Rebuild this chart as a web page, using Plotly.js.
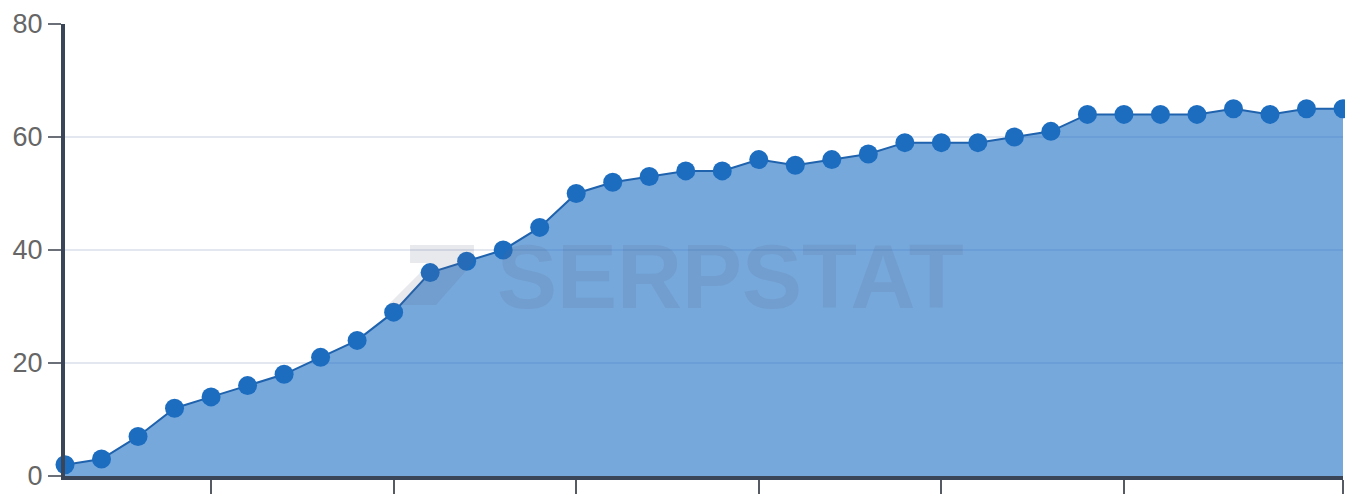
<!DOCTYPE html>
<html>
<head>
<meta charset="utf-8">
<script src="https://cdn.plot.ly/plotly-3.0.1.min.js"></script>
<style>
html,body{margin:0;padding:0;background:#fff;}
#chart{width:1345px;height:494px;}
</style>
</head>
<body>
<div id="chart"></div>
<script>
// Data
const pointIndex = [0,1,2,3,4,5,6,7,8,9,10,11,12,13,14,15,16,17,18,19,20,21,22,23,24,25,26,27,28,29,30,31,32,33,34,35];
const seriesValues = [2,3,7,12,14,16,18,21,24,29,36,38,40,44,50,52,53,54,54,56,55,56,57,59,59,59,60,61,64,64,64,64,65,64,65,65];
const xTickPositions = [4,9,14,19,24,29,35];
const yTickValues = [0,20,40,60,80];
const yTickLabels = ["0","20","40","60","80"];
const watermarkText = "SERPSTAT";

const W = 1345, H = 494;
const mL = 65, mR = 2, mT = 24, mB = 18;
const pw = W - mL - mR, ph = H - mT - mB;
function px(x){ return (x - mL) / pw; }
function py(y){ return (H - mB - y) / ph; }
const logoPts = [[410,245],[474,245],[474,262],[436,305],[388,305],[430,263],[410,263]];
const logoPath = 'M' + logoPts.map(p => px(p[0]).toFixed(4) + ',' + py(p[1]).toFixed(4)).join(' L') + ' Z';

const trace = {
  x: pointIndex,
  y: seriesValues,
  type: 'scatter',
  mode: 'lines+markers',
  fill: 'tozeroy',
  fillcolor: 'rgba(26,110,196,0.60)',
  line: {color: '#1f62ad', width: 2},
  marker: {color: '#1c6dc0', size: 19},
  cliponaxis: false,
  hoverinfo: 'x+y'
};

const layout = {
  width: W, height: H,
  margin: {l: mL, r: mR, t: mT, b: mB, pad: 0},
  paper_bgcolor: '#ffffff',
  plot_bgcolor: '#ffffff',
  showlegend: false,
  xaxis: {
    range: [0, 35],
    tickmode: 'array',
    tickvals: xTickPositions,
    showticklabels: false,
    ticks: 'outside',
    ticklen: 14,
    tickwidth: 2,
    tickcolor: '#555a63',
    showgrid: false,
    zeroline: false,
    showline: true,
    linecolor: '#3b4558',
    linewidth: 4,
    fixedrange: true
  },
  yaxis: {
    range: [0, 80],
    tickmode: 'array',
    tickvals: yTickValues,
    ticktext: yTickLabels,
    ticks: 'outside',
    ticklen: 13,
    tickwidth: 2,
    tickcolor: '#6a6f78',
    tickfont: {family: 'Liberation Sans, Arial, sans-serif', size: 27, color: '#666666'},
    showgrid: true,
    gridcolor: '#e3e7f0',
    gridwidth: 2,
    zeroline: false,
    showline: true,
    linecolor: '#3b4558',
    linewidth: 4,
    fixedrange: true
  },
  shapes: [{
    type: 'path', xref: 'paper', yref: 'paper',
    path: logoPath,
    fillcolor: 'rgba(90,100,125,0.14)',
    line: {width: 0},
    layer: 'above'
  }],
  annotations: [{
    text: '<b>' + watermarkText + '</b>',
    xref: 'paper', yref: 'paper',
    x: px(730), y: py(277),
    xanchor: 'center', yanchor: 'middle',
    showarrow: false,
    font: {family: 'Liberation Sans, Arial, sans-serif', size: 90, color: 'rgba(90,100,125,0.14)'}
  }]
};

Plotly.newPlot('chart', [trace], layout, {displayModeBar: false, staticPlot: true});
</script>
</body>
</html>
